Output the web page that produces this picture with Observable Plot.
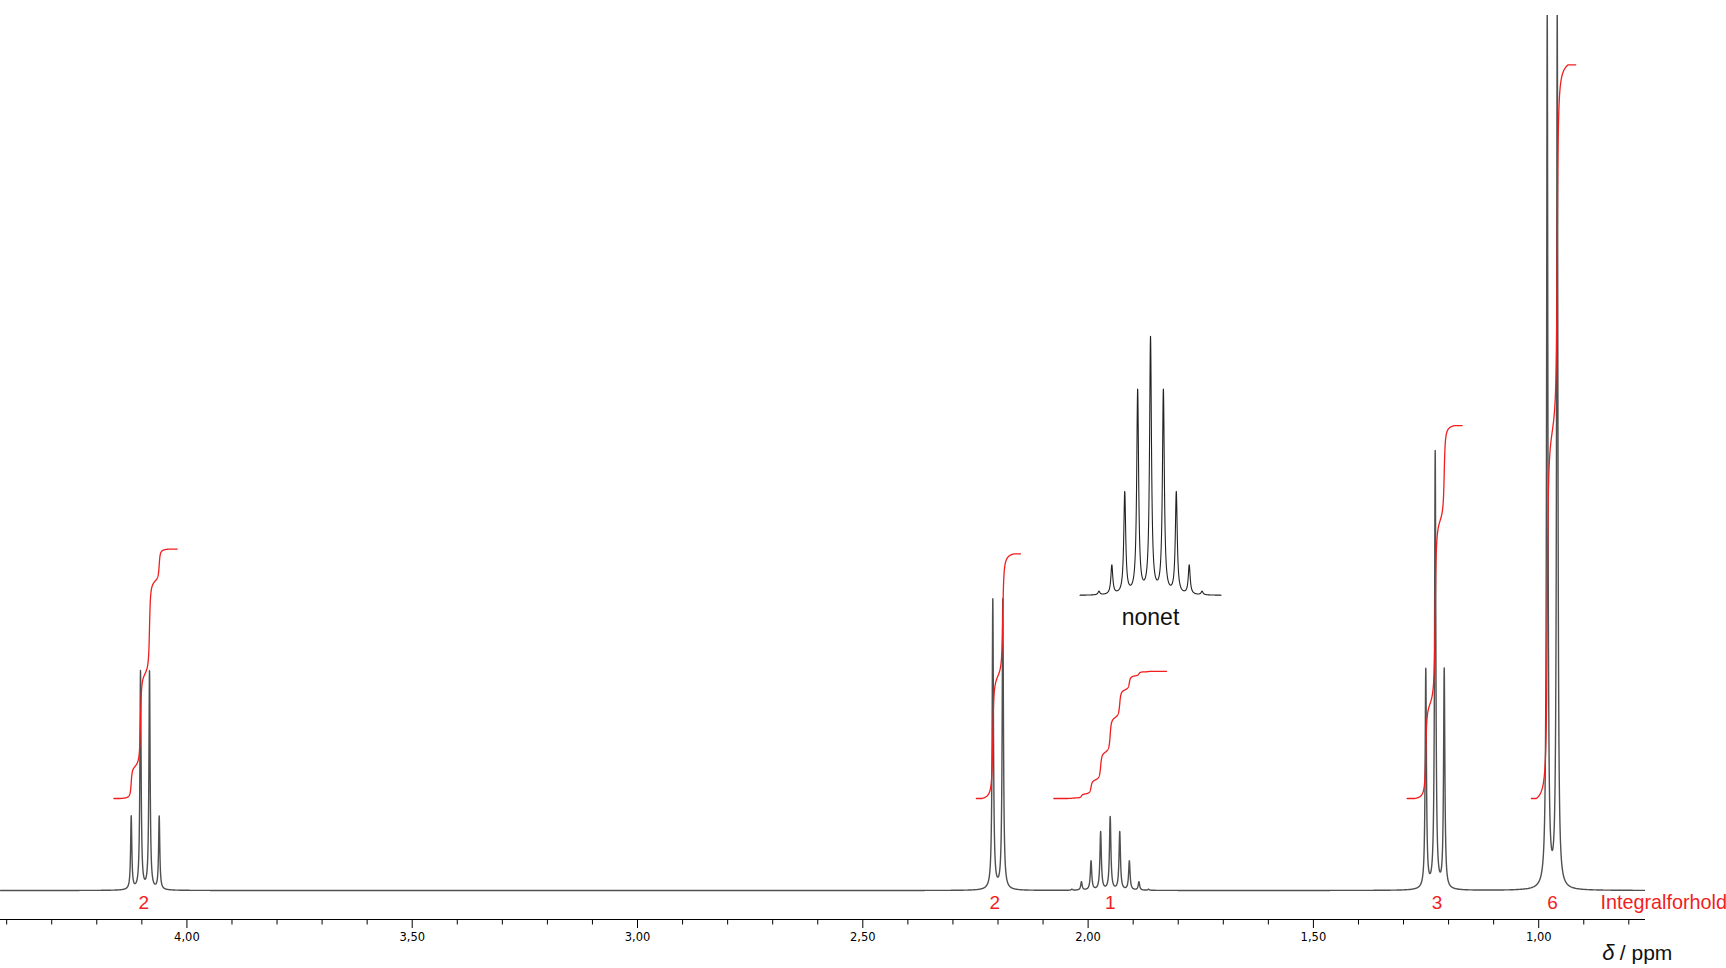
<!DOCTYPE html>
<html>
<head>
<meta charset="utf-8">
<script src="https://cdn.jsdelivr.net/npm/d3@7"></script>
<script src="https://cdn.jsdelivr.net/npm/@observablehq/plot@0.6"></script>
<style>
  html, body { margin: 0; padding: 0; background: #fff; }
  #chart svg { display: block; }
</style>
</head>
<body>
<div id="chart"></div>
<script>
// ---------- data ----------
// chemical shifts (ppm) and peak heights (arbitrary intensity units)
const quartetShifts  = [4.1236, 4.1030, 4.0830, 4.0615];
const quartetHeights = [73, 218, 218, 73];
const doubletShifts  = [2.2115, 2.1893];
const doubletHeights = [290, 290];
const nonetShifts    = [2.0360, 2.0148, 1.9935, 1.9722, 1.9510, 1.9298, 1.9085, 1.8872, 1.8660];
const nonetHeights   = [1.0, 8.3, 29, 58, 73, 58, 29, 8.3, 1.0];
const tripletShifts  = [1.2506, 1.2297, 1.2097];
const tripletHeights = [219, 437, 219];
const methylShifts   = [0.9811, 0.9589];
const methylHeights  = [873, 873];
const lineHalfWidths = [0.0016, 0.0017, 0.0019, 0.0017, 0.0017]; // HWHM in ppm

// integrals
const integralLabels = ["2", "2", "1", "3", "6"];
const integralValues = [2.02, 1.98, 1.03, 3.02, 5.94];
const integralStart  = [4.162, 2.248, 2.076, 1.292, 1.016];
const integralEnd    = [4.0215, 2.150, 1.826, 1.170, 0.918];
const labelShifts    = [4.0957, 2.2070, 1.9510, 1.2257, 0.9694];

// axis ticks
const majorTicks = [4.0, 3.5, 3.0, 2.5, 2.0, 1.5, 1.0];
const majorTickLabels = ["4,00", "3,50", "3,00", "2,50", "2,00", "1,50", "1,00"];
const minorTicks = [4.4, 4.3, 4.2, 4.1, 3.9, 3.8, 3.7, 3.6, 3.4, 3.3, 3.2, 3.1, 2.9, 2.8, 2.7, 2.6,
                    2.4, 2.3, 2.2, 2.1, 1.9, 1.8, 1.7, 1.6, 1.4, 1.3, 1.2, 1.1, 0.9, 0.8];

// texts
const insetLabel = "nonet";
const rowLabel = "Integralforhold";
const axisSymbol = "δ";
const axisUnit = "/ ppm";

// ---------- layout constants ----------
const W = 1726, H = 968;
const X_LEFT = 4.4137, X_RIGHT = 0.7630;
const Y_MIN = -29, Y_MAX = 875;
const RED = "#f01e1e";
const INT_BASE = 92, INT_PER_H = 123.5, INT_CUTOFF = 0.024;
const INSET_CENTER = 1.8615, INSET_XMAG = 1.346, INSET_BASE = 295, INSET_YMAG = 3.5, INSET_HALF = 0.1163;

// ---------- build series through line shapes ----------
const multiplets = [
  [quartetShifts, quartetHeights],
  [doubletShifts, doubletHeights],
  [nonetShifts, nonetHeights],
  [tripletShifts, tripletHeights],
  [methylShifts, methylHeights]
].map(([s, h], k) => s.map((shift, i) => ({s: shift, h: h[i], w: lineHalfWidths[k]})));
const peaks = multiplets.flat();
const lor = (p, pk) => pk.h / (1 + ((p - pk.s) / pk.w) ** 2);
const sumAt = (p, list) => { let v = 0; for (const pk of list) v += lor(p, pk); return v; };
const nearPeak = p => peaks.some(pk => Math.abs(pk.s - p) < 0.03);

const spectrum = [];
for (let p = X_LEFT; p > X_RIGHT; p -= nearPeak(p) ? 0.0001 : 0.002) spectrum.push({ppm: p, y: sumAt(p, peaks)});
spectrum.push({ppm: X_RIGHT, y: sumAt(X_RIGHT, peaks)});

// running integral of each multiplet (Lorentzian area, tails beyond the cutoff ignored)
const clampU = (u, c) => Math.max(-c, Math.min(c, u));
const integralData = multiplets.flatMap((m, k) => {
  const x0 = integralStart[k], x1 = integralEnd[k];
  const G = (p, pk) => Math.atan(clampU((pk.s - p) / pk.w, INT_CUTOFF / pk.w));
  const cum = p => { let v = 0; for (const pk of m) v += pk.h * (G(p, pk) - G(x0, pk)); return v; };
  const total = cum(x1);
  const out = [];
  for (let p = x0; p > x1; p -= 0.0002) out.push({k, ppm: p, y: INT_BASE + integralValues[k] * INT_PER_H * cum(p) / total});
  out.push({k, ppm: x1, y: INT_BASE + integralValues[k] * INT_PER_H});
  return out;
});

const nonet = multiplets[2];
const nonetCenter = nonetShifts[4];
const insetData = [];
for (let p = nonetCenter + INSET_HALF; p > nonetCenter - INSET_HALF; p -= 0.00005) {
  insetData.push({x: INSET_CENTER + (p - nonetCenter) * INSET_XMAG, y: INSET_BASE + INSET_YMAG * sumAt(p, nonet)});
}

// ---------- plot ----------
const chart = Plot.plot({
  width: W, height: H,
  marginLeft: 0, marginRight: 81, marginTop: 15, marginBottom: 49,
  x: {domain: [X_LEFT, X_RIGHT], axis: null},
  y: {domain: [Y_MIN, Y_MAX], axis: null},
  style: {fontFamily: "'Liberation Sans', Arial, sans-serif", background: "#fff", color: "#000"},
  marks: [
    Plot.ruleY([Y_MIN], {stroke: "#000", strokeWidth: 1.2}),
    Plot.axisX(minorTicks, {tickSize: 5.5, tickFormat: () => "", label: null, strokeWidth: 1}),
    Plot.axisX(majorTicks, {
      tickSize: 9, tickPadding: 4, label: null, strokeWidth: 1,
      tickFormat: d => majorTickLabels[majorTicks.indexOf(d)],
      fontFamily: "'DejaVu Sans', sans-serif", fontSize: 11.5, fill: "#000"
    }),
    Plot.line(spectrum, {x: "ppm", y: "y", stroke: "#505050", strokeWidth: 1.4, clip: true}),
    Plot.line(integralData, {x: "ppm", y: "y", z: "k", stroke: RED, strokeWidth: 1.3}),
    Plot.line(insetData, {x: "x", y: "y", stroke: "#222", strokeWidth: 1.1}),
    Plot.text([insetLabel], {x: INSET_CENTER, y: 272.4, fontSize: 23, fill: "#111"}),
    Plot.text(integralLabels, {x: (d, i) => labelShifts[i], y: -12.5, fill: RED, fontSize: 19}),
    Plot.text([rowLabel], {x: 0.8629, y: -12.5, textAnchor: "start", fill: RED, fontSize: 19.8}),
    Plot.text([axisSymbol], {x: 0.8590, y: -62.3, textAnchor: "start", fontSize: 22, fontStyle: "italic", fill: "#111"}),
    Plot.text([axisUnit], {x: 0.8200, y: -62.3, textAnchor: "start", fontSize: 21, fill: "#111"})
  ]
});
document.getElementById("chart").append(chart);
</script>
</body>
</html>
